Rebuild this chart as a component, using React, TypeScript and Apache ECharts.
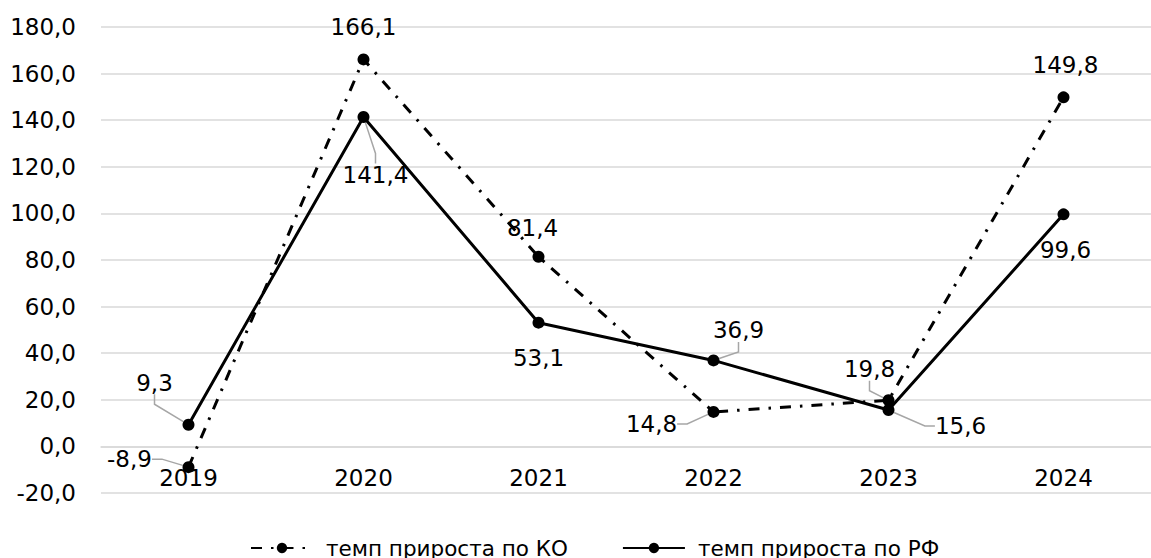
import React, { useEffect, useRef } from "react";
import * as echarts from "echarts";

const categories = ["2019", "2020", "2021", "2022", "2023", "2024"];
const seriesKO = [-8.9, 166.1, 81.4, 14.8, 19.8, 149.8];
const seriesRF = [9.3, 141.4, 53.1, 36.9, 15.6, 99.6];
const nameKO = "темп прироста по КО";
const nameRF = "темп прироста по РФ";
const Y_MIN = -20;
const Y_MAX = 180;
const Y_STEP = 20;

// label offsets (style only) relative to the point centre, and whether a leader line shows
const offsKO: [number, number, boolean][] = [
  [-59, -8, true],
  [0, -32, false],
  [-6, -29, false],
  [-62, 12, true],
  [-19, -31, true],
  [2, -32, false],
];
const offsRF: [number, number, boolean][] = [
  [-34, -42, true],
  [12, 58, true],
  [0, 35, false],
  [25, -30, true],
  [72, 16, true],
  [2, 36, false],
];

const FONT = "DejaVu Sans";
const GRID_H = 466;
const fmt = (v: number) => v.toFixed(1).replace(".", ",");

export default function App() {
  const ref = useRef<HTMLDivElement>(null);
  useEffect(() => {
    if (!ref.current) return;
    const chart = echarts.init(ref.current, undefined, { renderer: "svg" });
    const mkData = (vals: number[], offs: [number, number, boolean][]) =>
      vals.map((v, i) => ({
        value: v,
        labelLine: { show: offs[i][2] },
      }));
    const mkLayout = (offs: [number, number, boolean][]) => (p: any) => ({
      dx: offs[p.dataIndex][0],
      dy: offs[p.dataIndex][1],
    });
    const labelCommon = {
      show: true,
      position: "inside",
      formatter: (p: any) => fmt(p.value),
      color: "#000",
      fontFamily: FONT,
      fontSize: 23,
    };
    const labelLineCommon = {
      show: true,
      length2: 10,
      lineStyle: { color: "#a6a6a6", width: 1.5 },
    };
    // place the category axis on the value 0 line
    const zeroOffset = -GRID_H * ((0 - Y_MIN) / (Y_MAX - Y_MIN));
    chart.setOption({
      animation: false,
      textStyle: { fontFamily: FONT },
      grid: { left: 101, top: 27, width: 1058, height: GRID_H, containLabel: false },
      legend: {
        left: 250,
        top: 537,
        itemWidth: 62,
        itemHeight: 13,
        itemGap: 54,
        padding: 0,
        textStyle: { fontFamily: FONT, fontSize: 21.5, color: "#000", padding: [0, 0, 0, 8] },
        data: [nameKO, nameRF],
      },
      xAxis: {
        type: "category",
        data: categories,
        boundaryGap: true,
        position: "bottom",
        offset: zeroOffset,
        axisLine: { show: true, onZero: false, lineStyle: { color: "#d9d9d9", width: 1.5 } },
        axisTick: { show: false },
        axisLabel: { color: "#000", fontFamily: FONT, fontSize: 23, margin: 20 },
      },
      yAxis: {
        type: "value",
        min: Y_MIN,
        max: Y_MAX,
        interval: Y_STEP,
        axisLine: { show: false },
        axisTick: { show: false },
        axisLabel: {
          color: "#000",
          fontFamily: FONT,
          fontSize: 23,
          margin: 25,
          formatter: (v: number) => fmt(v),
        },
        splitLine: { lineStyle: { color: "#d9d9d9", width: 1.5 } },
      },
      series: [
        {
          name: nameKO,
          type: "line",
          data: mkData(seriesKO, offsKO),
          symbol: "circle",
          symbolSize: 12,
          itemStyle: { color: "#000" },
          lineStyle: { color: "#000", width: 3, type: [11, 9, 2.5, 9] },
          label: labelCommon,
          labelLine: labelLineCommon,
          labelLayout: mkLayout(offsKO),
          z: 3,
        },
        {
          name: nameRF,
          type: "line",
          data: mkData(seriesRF, offsRF),
          symbol: "circle",
          symbolSize: 12,
          itemStyle: { color: "#000" },
          lineStyle: { color: "#000", width: 3, type: "solid" },
          label: labelCommon,
          labelLine: labelLineCommon,
          labelLayout: mkLayout(offsRF),
          z: 4,
        },
      ],
    });
    return () => chart.dispose();
  }, []);
  return (
    <div
      style={{ position: "absolute", left: 0, top: 0, width: 1151, height: 558, overflow: "hidden", background: "#fff" }}
    >
      <div ref={ref} style={{ width: 1151, height: 558 }} />
    </div>
  );
}
